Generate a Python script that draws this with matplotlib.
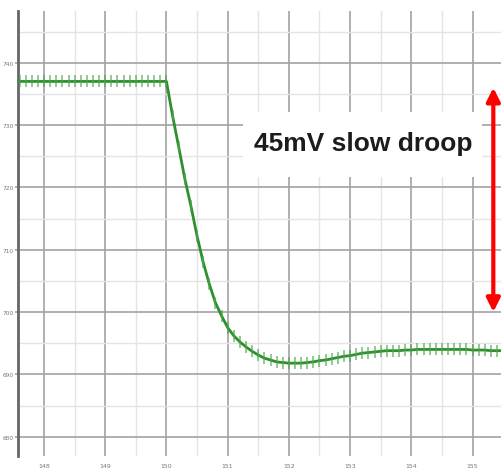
import numpy as np
import matplotlib
matplotlib.use("Agg")
import matplotlib.pyplot as plt
from matplotlib.patches import Rectangle

# time axis (us) sampled every 0.1
t = [round(147.6 + 0.1 * i, 1) for i in range(80)]
v = ([737.0] * 24 +
     [737.0, 731.5, 726.5, 721.4, 717.0, 712.2, 708.0, 704.5, 701.5, 699.4,
      697.5, 696.2, 695.2, 694.4, 693.7, 693.1, 692.6, 692.3, 692.0, 691.9,
      691.8, 691.8, 691.8, 691.9, 692.0, 692.2, 692.3, 692.5, 692.7, 692.9,
      693.0, 693.2, 693.4, 693.5, 693.6, 693.7, 693.8, 693.8, 693.8, 693.9,
      693.9, 694.0, 694.0, 694.0, 694.0, 694.0, 694.0, 694.0, 694.0, 694.0,
      693.9, 693.9, 693.9, 693.8, 693.8, 693.8])

x_ticks = [148, 149, 150, 151, 152, 153, 154, 155]
y_ticks = [680, 690, 700, 710, 720, 730, 740]
annot_text = "45mV slow droop"
droop_top = 736.0
droop_bottom = 700.0

fig = plt.figure(figsize=(5.02, 4.77), dpi=100)
ax = fig.add_axes([18/502, 1 - 457/477, 1 - 18/502 + 0.001, (457 - 12)/477])
ax.set_xlim(147.575, 155.49)
ax.set_ylim(676.9, 748.3)

ax.set_xticks(x_ticks)
ax.set_yticks(y_ticks)
ax.set_xticks(np.array(x_ticks[:-1]) + 0.5, minor=True)
ax.set_yticks(np.array(y_ticks) + 5, minor=True)
ax.set_xticklabels([str(x) for x in x_ticks], fontsize=4.5, color='#777777')
ax.set_yticklabels([str(y) for y in y_ticks], fontsize=4.2, color='#777777')
ax.grid(True, which='major', color='#a2a2a2', lw=1.2)
ax.grid(True, which='minor', color='#e4e4e4', lw=1.0)
ax.tick_params(axis='y', which='major', length=2.5, color='#a2a2a2', width=1.2, pad=0.5)
ax.tick_params(axis='x', which='major', length=0, pad=5)
ax.tick_params(which='minor', length=0)
for s in ['top', 'right', 'bottom']:
    ax.spines[s].set_visible(False)
ax.spines['left'].set_color('#666666')
ax.spines['left'].set_linewidth(2)
ax.set_axisbelow(True)

# white box behind annotation text
ax.add_patch(Rectangle((151.25, 721.7), 155.16 - 151.25, 732.1 - 721.7,
                       facecolor='white', edgecolor='none', zorder=1.5))

ax.plot(t, v, color='#2f8f2f', lw=2.0, zorder=3, solid_capstyle='round')
ax.plot(t, v, ls='none', marker='|', markersize=9, mew=1.2,
        color='#4aa84a', alpha=0.7, zorder=3)

ax.text(153.22, 727.2, annot_text, ha='center', va='center',
        fontsize=19, fontweight='bold', family=['Liberation Sans', 'DejaVu Sans'],
        color='#1c1c1c', zorder=4)

ax.annotate('', xy=(155.34, droop_top), xytext=(155.34, droop_bottom),
            arrowprops=dict(arrowstyle='<|-|>', color='#ff0000', lw=3,
                            mutation_scale=20, shrinkA=0, shrinkB=0),
            zorder=5)

fig.savefig('out.png', dpi=100, facecolor='white')
